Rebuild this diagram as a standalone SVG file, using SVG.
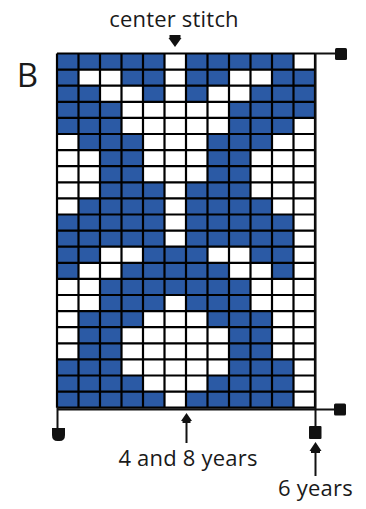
<svg xmlns="http://www.w3.org/2000/svg" width="366" height="509" viewBox="0 0 366 509">
<style>
.lbl{font-family:"Open Sans","DejaVu Sans",sans-serif;font-size:22px;letter-spacing:0.2px;fill:#1a1a1a;text-anchor:middle}
.b{fill:#2b5aa5}
.gl{fill:none;stroke:#000;stroke-width:2.2;vector-effect:non-scaling-stroke}
.ln{fill:none;stroke:#111;stroke-width:2}
.mk{fill:#111}
</style>
<rect width="366" height="509" fill="#fff"/>
<g id="chart-grid" transform="translate(57,53.5) scale(21.5,16.1)">
<rect x="0" y="0" width="12" height="22" fill="#fff"/>
<g id="blue-cells">
<rect class="b" x="0" y="0" width="5" height="1"/><rect class="b" x="6" y="0" width="5" height="1"/>
<rect class="b" x="0" y="1" width="1" height="1"/><rect class="b" x="3" y="1" width="2" height="1"/><rect class="b" x="6" y="1" width="2" height="1"/><rect class="b" x="10" y="1" width="2" height="1"/>
<rect class="b" x="0" y="2" width="2" height="1"/><rect class="b" x="4" y="2" width="1" height="1"/><rect class="b" x="6" y="2" width="1" height="1"/><rect class="b" x="9" y="2" width="3" height="1"/>
<rect class="b" x="0" y="3" width="3" height="1"/><rect class="b" x="8" y="3" width="4" height="1"/>
<rect class="b" x="0" y="4" width="3" height="1"/><rect class="b" x="8" y="4" width="3" height="1"/>
<rect class="b" x="1" y="5" width="3" height="1"/><rect class="b" x="7" y="5" width="3" height="1"/>
<rect class="b" x="2" y="6" width="2" height="1"/><rect class="b" x="7" y="6" width="2" height="1"/>
<rect class="b" x="2" y="7" width="2" height="1"/><rect class="b" x="7" y="7" width="2" height="1"/>
<rect class="b" x="2" y="8" width="3" height="1"/><rect class="b" x="6" y="8" width="3" height="1"/>
<rect class="b" x="1" y="9" width="4" height="1"/><rect class="b" x="6" y="9" width="4" height="1"/>
<rect class="b" x="0" y="10" width="5" height="1"/><rect class="b" x="6" y="10" width="5" height="1"/>
<rect class="b" x="0" y="11" width="5" height="1"/><rect class="b" x="6" y="11" width="5" height="1"/>
<rect class="b" x="0" y="12" width="2" height="1"/><rect class="b" x="4" y="12" width="3" height="1"/><rect class="b" x="9" y="12" width="2" height="1"/>
<rect class="b" x="0" y="13" width="1" height="1"/><rect class="b" x="3" y="13" width="5" height="1"/><rect class="b" x="10" y="13" width="1" height="1"/>
<rect class="b" x="2" y="14" width="7" height="1"/>
<rect class="b" x="2" y="15" width="3" height="1"/><rect class="b" x="6" y="15" width="3" height="1"/>
<rect class="b" x="1" y="16" width="3" height="1"/><rect class="b" x="7" y="16" width="3" height="1"/>
<rect class="b" x="1" y="17" width="2" height="1"/><rect class="b" x="8" y="17" width="2" height="1"/>
<rect class="b" x="1" y="18" width="2" height="1"/><rect class="b" x="8" y="18" width="2" height="1"/>
<rect class="b" x="0" y="19" width="3" height="1"/><rect class="b" x="8" y="19" width="3" height="1"/>
<rect class="b" x="0" y="20" width="4" height="1"/><rect class="b" x="7" y="20" width="4" height="1"/>
<rect class="b" x="0" y="21" width="5" height="1"/><rect class="b" x="6" y="21" width="5" height="1"/>
</g>
<path class="gl" d="M0,0V22M1,0V22M2,0V22M3,0V22M4,0V22M5,0V22M6,0V22M7,0V22M8,0V22M9,0V22M10,0V22M11,0V22M12,0V22M0,0H12M0,1H12M0,2H12M0,3H12M0,4H12M0,5H12M0,6H12M0,7H12M0,8H12M0,9H12M0,10H12M0,11H12M0,12H12M0,13H12M0,14H12M0,15H12M0,16H12M0,17H12M0,18H12M0,19H12M0,20H12M0,21H12M0,22H12"/>
</g>
<g id="connectors">
<path class="ln" d="M315,53.5H338"/>
<path class="ln" d="M315.5,53.5V428"/>
<path class="ln" d="M57,409.5H338"/>
<path class="ln" d="M57.5,407V430"/>
<path class="ln" d="M186.5,420V443"/>
<path class="ln" d="M315.5,450V476"/>
</g>
<g id="center-marker">
<rect class="mk" x="169.5" y="35" width="11" height="3"/>
<path class="mk" d="M168.5,38H181.5L175,47Z"/>
</g>
<g id="end-markers">
<rect class="mk" x="335" y="48" width="12" height="12" rx="1.5"/>
<rect class="mk" x="334" y="403.5" width="12" height="12" rx="1.5"/>
<path class="mk" d="M52,428H65V435Q65,441 59.5,441H57.5Q52,441 52,435Z"/>
<rect class="mk" x="309" y="426" width="12.5" height="13" rx="1"/>
</g>
<g id="arrow-heads">
<path class="mk" d="M186.5,413L192,421H181Z"/>
<rect class="mk" x="182.5" y="420" width="8" height="3"/>
<path class="mk" d="M315.5,442L321.5,451H309.5Z"/>
<rect class="mk" x="311" y="450" width="9" height="3"/>
</g>
<g id="labels">
<text class="lbl" x="174" y="27">center stitch</text>
<text class="lbl" x="27.5" y="87" style="font-size:33px;letter-spacing:0">B</text>
<text class="lbl" x="188" y="466">4 and 8 years</text>
<text class="lbl" x="315.5" y="496">6 years</text>
</g>
</svg>
